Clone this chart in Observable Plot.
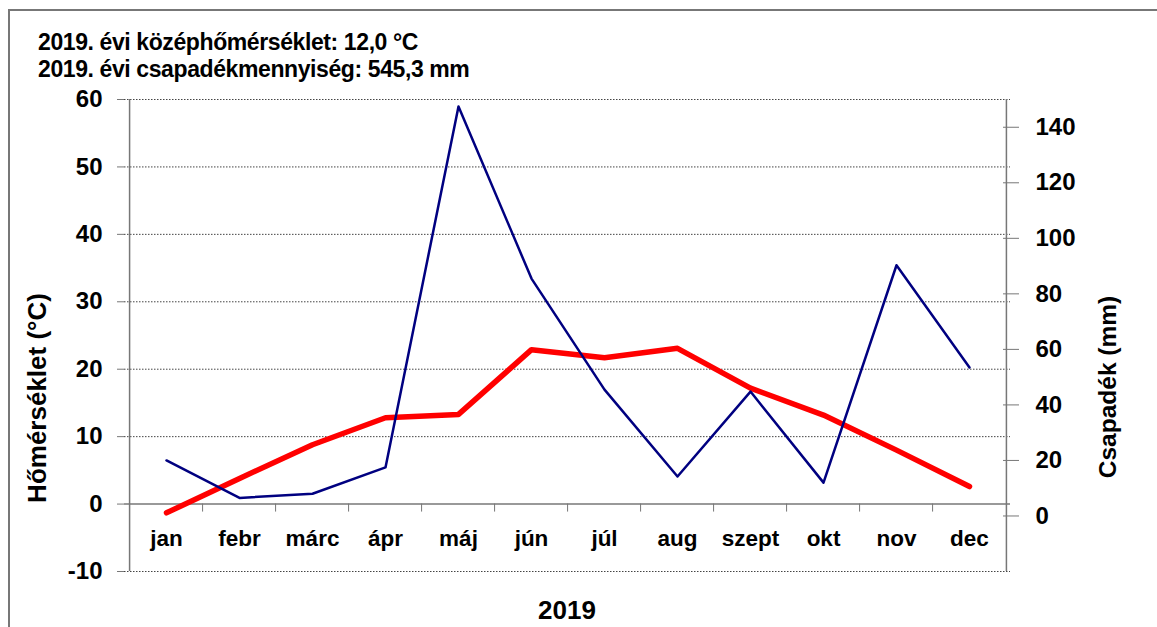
<!DOCTYPE html>
<html><head><meta charset="utf-8">
<script src="https://cdn.jsdelivr.net/npm/d3@7"></script>
<script src="https://cdn.jsdelivr.net/npm/@observablehq/plot@0.6"></script>
<style>
body{margin:0;background:#fff;}
#wrap{position:relative;width:1157px;height:627px;overflow:hidden;font-family:"Liberation Sans",Arial,sans-serif;font-weight:bold;color:#000;}
#border{position:absolute;left:8px;top:9px;width:1200px;height:700px;border-left:2px solid #777;border-top:2px solid #777;}
#chart{position:absolute;left:0;top:0;}
.t{position:absolute;white-space:nowrap;line-height:1;}
.title{left:38px;font-size:23px;letter-spacing:-0.4px;}
.rot{transform:translate(-50%,-50%) rotate(-90deg);}
</style></head>
<body><div id="wrap">
<div id="border"></div>
<div id="chart"></div>
<div class="t title" style="top:31px">2019. évi középhőmérséklet: 12,0 °C</div>
<div class="t title" style="top:58px">2019. évi csapadékmennyiség: 545,3 mm</div>
<div class="t rot" style="left:37px;top:398px;font-size:26px">Hőmérséklet (°C)</div>
<div class="t rot" style="left:1108px;top:387px;font-size:24.5px">Csapadék (mm)</div>
<div class="t" style="left:567px;top:597px;transform:translateX(-50%);font-size:26px">2019</div>
</div>
<script>
const months = ["jan","febr","márc","ápr","máj","jún","júl","aug","szept","okt","nov","dec"];
const temperature = [-1.3, 3.8, 8.8, 12.8, 13.3, 22.9, 21.7, 23.1, 17.2, 13.2, 8.0, 2.6];
const precipitation = [20, 6.5, 8, 17.5, 147.5, 85.5, 45.5, 14.2, 44.8, 12, 90.3, 53.5];
const tempTicks = [-10, 0, 10, 20, 30, 40, 50, 60];
const precTicks = [0, 20, 40, 60, 80, 100, 120, 140];
const tempDomain = [-10, 60];
const precDomain = [-20, 150];

const data = months.map((m, i) => ({month: m, temp: temperature[i], prec: precipitation[i]}));
const k = (tempDomain[1] - tempDomain[0]) / (precDomain[1] - precDomain[0]);
const toT = p => tempDomain[0] + (p - precDomain[0]) * k;
const fromT = t => precDomain[0] + (t - tempDomain[0]) / k;

const W = 1157, H = 627, L = 124, R = 1010, T = 99, B = 571;
const step = (R - L) / months.length;
const y0px = T + (tempDomain[1] - 0) / (tempDomain[1] - tempDomain[0]) * (B - T);
const font = '"Liberation Sans",Arial,sans-serif';

const chart = Plot.plot({
  width: W, height: H,
  marginLeft: L, marginRight: W - R, marginTop: T, marginBottom: H - y0px,
  x: {type: "point", domain: months, padding: 0.5, axis: null},
  y: {domain: tempDomain, range: [B, T], axis: null, label: null},
  style: {fontFamily: font, fontWeight: "bold", fontSize: "23px", color: "#000", background: "transparent"},
  marks: [
    Plot.ruleY(tempTicks.filter(d => d !== 0), {stroke: "#444", strokeDasharray: "1.5,1.5", strokeWidth: 1}),
    Plot.ruleY([0], {stroke: "#777", strokeWidth: 1.5}),
    Plot.ruleX([months[0]], {y1: tempDomain[0], y2: tempDomain[1], dx: -step / 2, stroke: "#777", strokeWidth: 1.5}),
    Plot.ruleX([months[months.length - 1]], {y1: tempDomain[0], y2: tempDomain[1], dx: step / 2, stroke: "#777", strokeWidth: 1.5}),
    Plot.axisY(tempTicks, {anchor: "left", tickSize: 7, tickPadding: 15, stroke: "#777", fontSize: 24, label: null,
      tickFormat: d => String(d)}),
    Plot.axisY(precTicks.map(toT), {anchor: "right", tickSize: 8, tickPadding: 17, stroke: "#777", fontSize: 24, label: null,
      tickFormat: t => String(Math.round(fromT(t)))}),
    Plot.axisY(precTicks.map(toT), {anchor: "right", tickSize: 8, dx: -8, stroke: "#777", label: null, tickFormat: () => ""}),
    Plot.axisX(months, {anchor: "bottom", tickSize: 0, tickPadding: 26, fontSize: 22.5, label: null}),
    Plot.axisX(months.slice(1), {anchor: "bottom", tickSize: 8, dx: -step / 2, stroke: "#777", label: null, tickFormat: () => ""}),
    Plot.line(data, {x: "month", y: "temp", stroke: "#ff0000", strokeWidth: 5.5}),
    Plot.line(data, {x: "month", y: d => toT(d.prec), stroke: "#000080", strokeWidth: 2.5})
  ]
});
document.getElementById("chart").appendChild(chart);
</script>
</body></html>
